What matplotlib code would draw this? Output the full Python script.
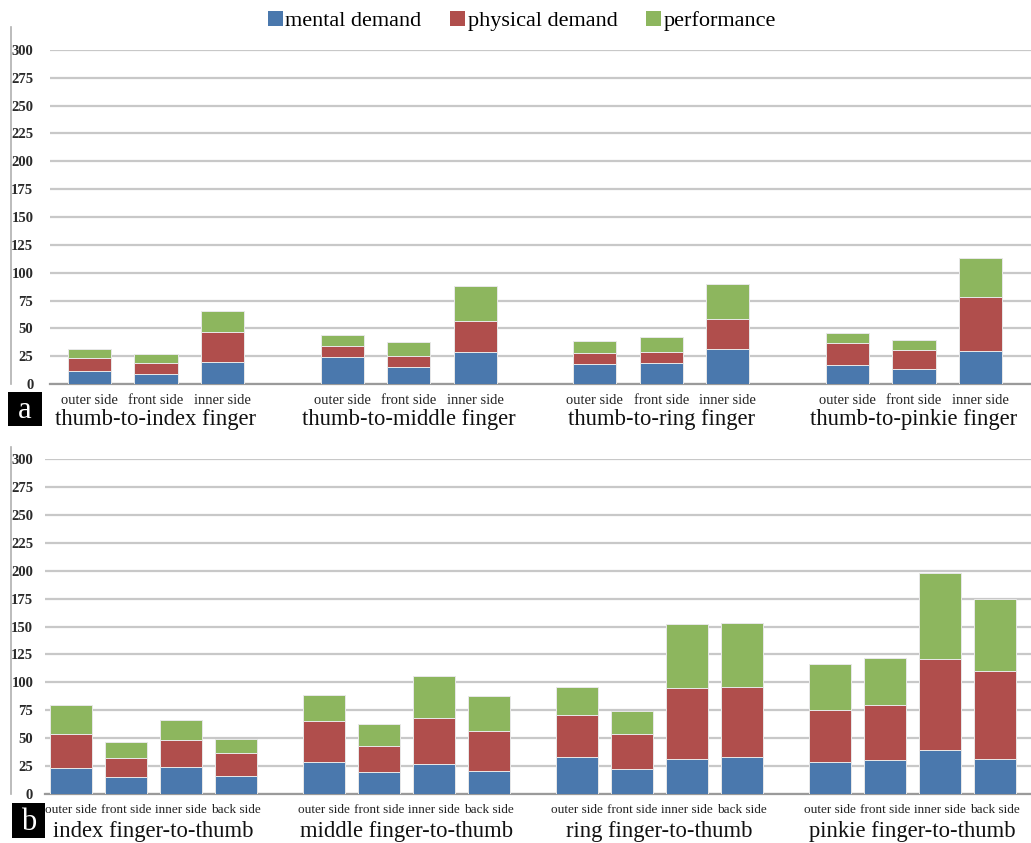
import matplotlib
matplotlib.use("Agg")
import matplotlib.pyplot as plt
import matplotlib.transforms as mtransforms
from matplotlib.patches import Rectangle
from matplotlib.lines import Line2D

# ---------------- data ----------------
series_names = ["mental demand", "physical demand", "performance"]
colors = ["#4a78ad", "#b04e4c", "#8db65e"]

groups_a = ["thumb-to-index finger", "thumb-to-middle finger",
            "thumb-to-ring finger", "thumb-to-pinkie finger"]
sides_a = ["outer side", "front side", "inner side"]
mental_a = [[12, 9, 20], [24, 15, 29], [18, 19, 31], [17, 13.5, 30]]
physical_a = [[11, 10, 27], [10, 10, 28], [10, 10, 27], [20, 17, 48]]
performance_a = [[8, 8, 19], [10, 13, 31], [10.5, 13, 32], [9, 9, 35]]

groups_b = ["index finger-to-thumb", "middle finger-to-thumb",
            "ring finger-to-thumb", "pinkie finger-to-thumb"]
sides_b = ["outer side", "front side", "inner side", "back side"]
mental_b = [[23, 15, 24, 16], [29, 20, 26.5, 21], [33, 22.5, 31, 33], [28.5, 30.5, 39, 31.5]]
physical_b = [[31, 17, 24, 21], [36, 23, 42, 35], [37.5, 31.5, 63.5, 63], [47, 49, 82, 79]]
performance_b = [[26, 15, 18, 12], [23.5, 20, 37, 32], [25, 20, 58, 57], [41, 42, 77, 64]]

yticks = [0, 25, 50, 75, 100, 125, 150, 175, 200, 225, 250, 275, 300]

W, H = 1031, 843
fig = plt.figure(figsize=(W / 100, H / 100), dpi=100)
plt.rcParams["font.family"] = ["Liberation Serif", "DejaVu Serif"]

def rect(left, right, top, bottom):
    return [left / W, 1 - bottom / H, (right - left) / W, (bottom - top) / H]

def draw_panel(ax, groups, sides, series, group_step, bar_w, xmin, xmax,
               tick_fs, group_fs, tick_pad, ylab_pad, group_y):
    n = len(sides)
    positions = []
    for g in range(len(groups)):
        positions.append([g * group_step + i for i in range(n)])
    for g in range(len(groups)):
        bottoms = [0] * n
        for s, vals in enumerate(series):
            ax.bar(positions[g], vals[g], bottom=bottoms, width=bar_w,
                   color=colors[s], edgecolor="#e8e8e8", linewidth=0.7, zorder=3)
            bottoms = [b + v for b, v in zip(bottoms, vals[g])]
    ax.set_xlim(xmin, xmax)
    ax.set_ylim(0, 300)
    ax.set_yticks(yticks)
    ax.set_yticklabels([str(t) for t in yticks], fontsize=10.5, fontweight="bold",
                       color="#2a2a2a")
    ax.tick_params(axis="y", length=0, pad=ylab_pad)
    flat_pos = [p for ps in positions for p in ps]
    ax.set_xticks(flat_pos)
    ax.set_xticklabels(sides * len(groups), fontsize=tick_fs, color="#222222")
    ax.tick_params(axis="x", length=0, pad=tick_pad)
    ax.grid(axis="y", color="#c8c8c8", linewidth=1.6, zorder=0)
    ax.set_axisbelow(True)
    for sp in ["top", "right", "left"]:
        ax.spines[sp].set_visible(False)
    ax.spines["bottom"].set_color("#9a9a9a")
    ax.spines["bottom"].set_linewidth(1.6)
    trans = mtransforms.blended_transform_factory(ax.transData, fig.transFigure)
    for g, name in enumerate(groups):
        cx = (positions[g][0] + positions[g][-1]) / 2
        ax.text(cx, 1 - group_y / H, name, transform=trans, ha="center",
                va="center", fontsize=group_fs, color="#111111")

# panel a
ax_a = fig.add_axes(rect(50, 1031, 50, 384))
draw_panel(ax_a, groups_a, sides_a, [mental_a, physical_a, performance_a],
           group_step=3.8, bar_w=0.65, xmin=-0.594, xmax=14.16,
           tick_fs=10.5, group_fs=16.3, tick_pad=7, ylab_pad=12, group_y=420)

# panel b
ax_b = fig.add_axes(rect(45, 1031, 459, 794))
draw_panel(ax_b, groups_b, sides_b, [mental_b, physical_b, performance_b],
           group_step=4.6, bar_w=0.77, xmin=-0.47, xmax=17.46,
           tick_fs=9.5, group_fs=16.3, tick_pad=7, ylab_pad=8.5, group_y=832)

# left vertical lines
fig.add_artist(Line2D([11 / W, 11 / W], [1 - 27 / H, 1 - 384 / H],
                      color="#b0b0b0", linewidth=1.2))
fig.add_artist(Line2D([11 / W, 11 / W], [1 - 447 / H, 1 - 794 / H],
                      color="#b0b0b0", linewidth=1.2))

# panel letters
for letter, (x0, y0, x1, y1) in [("a", (8, 392, 42, 426)), ("b", (12, 803, 45, 838))]:
    fig.add_artist(Rectangle((x0 / W, 1 - y1 / H), (x1 - x0) / W, (y1 - y0) / H,
                             transform=fig.transFigure, facecolor="black",
                             edgecolor="none"))
    fig.text((x0 + x1) / 2 / W, 1 - (y0 + y1) / 2 / H - 0.002, letter,
             color="white", fontsize=22, ha="center", va="center")

# legend
handles = [Rectangle((0, 0), 1, 1, facecolor=c, edgecolor="none") for c in colors]
fig.legend(handles, series_names, loc="center", bbox_to_anchor=(522 / W, 1 - 21 / H),
           ncol=3, frameon=False, fontsize=16, handlelength=0.65, handleheight=0.65,
           handletextpad=0.12, columnspacing=1.3, borderaxespad=0)

fig.savefig("out.png", dpi=100)
